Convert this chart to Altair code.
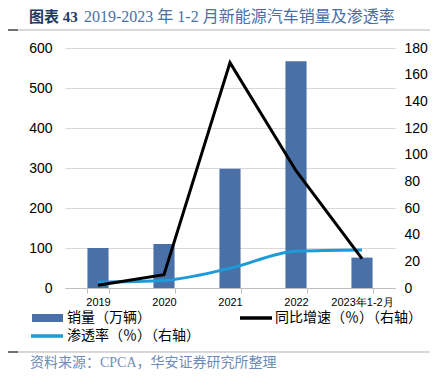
import altair as alt
import pandas as pd

categories = ["2019", "2020", "2021", "2022", "2023年1-2月"]
sales = [100, 110, 298, 567, 76]          # 销量（万辆）
yoy = [2, 10, 169, 88, 22]                # 同比增速（%）
penetration = [4.5, 5.7, 14.8, 27.6, 28.5]  # 渗透率（%）

df = pd.DataFrame({"cat": categories, "sales": sales, "yoy": yoy, "pen": penetration})

BAR = "#4a70a8"
BLUE = "#1d9ad8"
CJK = "Liberation Serif, Noto Sans CJK SC"

xenc = alt.X("cat:N", sort=categories,
             scale=alt.Scale(paddingInner=0.68, paddingOuter=0.34),
             axis=alt.Axis(title=None, labelAngle=0, labelFontSize=11, labelFont="Liberation Sans",
                           labelColor="#000", domainColor="#bfbfbf", tickColor="#bfbfbf",
                           tickSize=5, tickBand="extent", labelPadding=3, grid=False))

bars = alt.Chart(df).mark_bar(color=BAR).encode(
    x=xenc,
    y=alt.Y("sales:Q", scale=alt.Scale(domain=[0, 600], nice=False),
            axis=alt.Axis(title=None, orient="left", values=[0, 100, 200, 300, 400, 500, 600],
                          labelFontSize=14, labelFont="Liberation Sans", labelColor="#000",
                          ticks=False, domain=False, grid=True, gridColor="#d9d9d9",
                          labelPadding=13)),
)

raxis = alt.Axis(title=None, orient="right", values=list(range(0, 181, 20)),
                 labelFontSize=14, labelFont="Liberation Sans", labelColor="#000",
                 ticks=False, domain=False, grid=False, labelPadding=9)
rscale = alt.Scale(domain=[0, 180], nice=False)

blue = alt.Chart(df).mark_line(color=BLUE, strokeWidth=3, interpolate="monotone").encode(
    x=xenc, y=alt.Y("pen:Q", scale=rscale, axis=raxis))
black = alt.Chart(df).mark_line(color="#000", strokeWidth=3).encode(
    x=xenc, y=alt.Y("yoy:Q", scale=rscale, axis=raxis))
lines = alt.layer(blue, black)

one = alt.Data(values=[{}])

def txt(s, x, y, size=14, color="#000", weight="normal", font=CJK):
    return alt.Chart(one).mark_text(align="left", baseline="middle", fontSize=size,
                                    color=color, fontWeight=weight, font=font).encode(
        x=alt.value(x), y=alt.value(y), text=alt.value(s))

def rule(x1, x2, y, color, w):
    return alt.Chart(one).mark_rule(color=color, strokeWidth=w).encode(
        x=alt.value(x1), x2=alt.value(x2), y=alt.value(y))

def rect(x1, x2, y1, y2, color):
    return alt.Chart(one).mark_rect(color=color).encode(
        x=alt.value(x1), x2=alt.value(x2), y=alt.value(y1), y2=alt.value(y2))

decor = alt.layer(
    txt("图表 43", -36, -31, size=15, color="#1f3864", weight="bold"),
    txt("2019-2023 年 1-2 月新能源汽车销量及渗透率", 19, -31, size=16, color="#4a6fa5"),
    rule(-57, -47, -18, "#404040", 1.5),
    rule(-47, 365, -18, "#d9d9d9", 2),
    rule(-57, -47, 304, "#404040", 1.5),
    rule(-47, 365, 304, "#d9d9d9", 2),
    rect(-33, -2, 266, 274, BAR),
    txt("销量（万辆）", 2, 270),
    rule(175, 207, 270, "#000", 3.5),
    txt("同比增速（％）（右轴）", 210, 270),
    rule(-34, -2, 288, BLUE, 3.5),
    txt("渗透率（％）（右轴）", 2, 288),
    txt("资料来源：CPCA，华安证券研究所整理", -35, 315, size=14, color="#6d8cba"),
)

chart = alt.layer(bars, lines, decor).resolve_scale(y="independent").properties(
    width=330, height=240,
    padding={"left": 57, "top": 40, "right": 37, "bottom": 91},
    autosize=alt.AutoSizeParams(type="none"),
).configure_view(stroke=None)

chart.save("out.html", embed_options={"renderer": "svg", "actions": False})
